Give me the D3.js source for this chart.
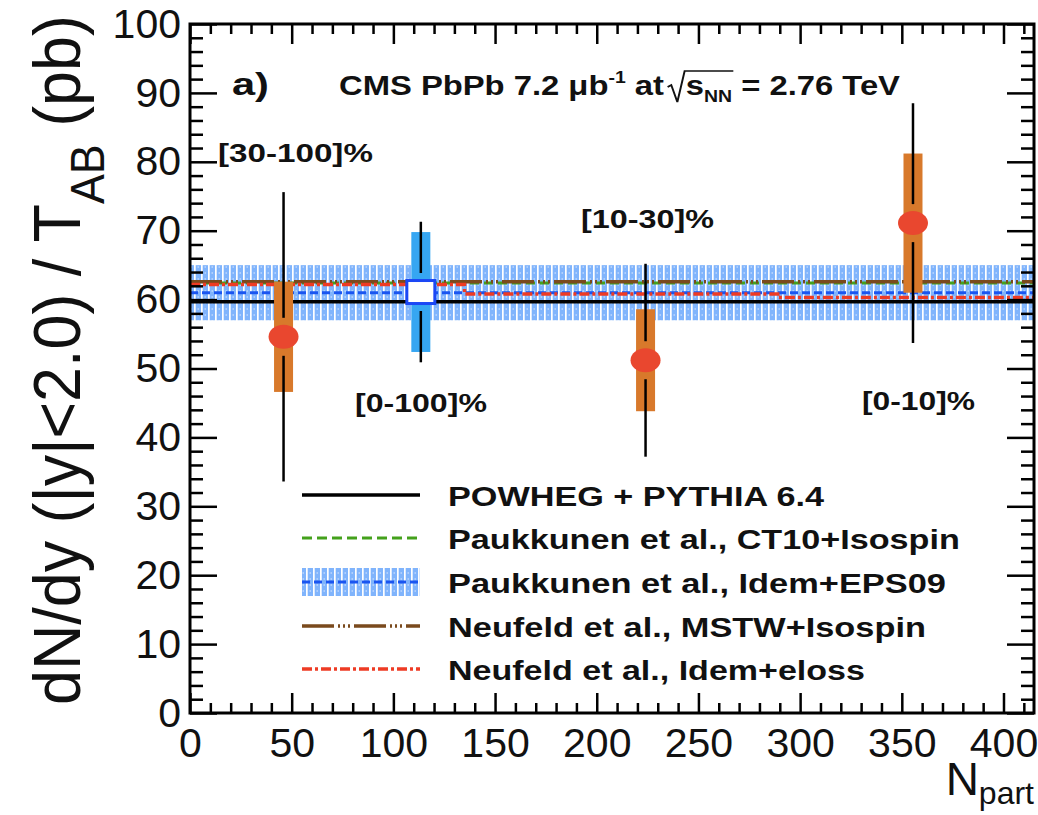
<!DOCTYPE html>
<html>
<head>
<meta charset="utf-8">
<script src="https://cdn.jsdelivr.net/npm/d3@7"></script>
<style>
  html, body { margin: 0; padding: 0; background: #fff; }
  svg { display: block; font-family: "Liberation Sans", Arial, Helvetica, sans-serif; }
</style>
</head>
<body>
<svg id="chart" width="1038" height="815"></svg>
<script>
// ---------------- data ----------------
const categories = ["[30-100]%", "[0-100]%", "[10-30]%", "[0-10]%"];
const npart      = [46, 113.5, 224, 355.5];
const yields     = [54.6, 61.1, 51.2, 71.1];
const statErr    = [21.0, 10.2, 14.0, 17.4];
const systErr    = [8.0, 8.7, 7.4, 10.1];
const isMinBias  = [false, true, false, false];

const modelNames = [
  "POWHEG + PYTHIA 6.4",
  "Paukkunen et al., CT10+Isospin",
  "Paukkunen et al., Idem+EPS09",
  "Neufeld et al., MSTW+Isospin",
  "Neufeld et al., Idem+eloss"
];
const powhegValue = 59.7;
const ct10Value   = 62.4;
const eps09Value  = 61.0;
const eps09Err    = 4.0;
const mstwValue   = 62.6;
const elossNpart  = [0, 135, 289, 415];
const elossValue  = [62.2, 60.8, 60.3, 60.3];

const xTicks = [0, 50, 100, 150, 200, 250, 300, 350, 400];
const yTicks = [0, 10, 20, 30, 40, 50, 60, 70, 80, 90, 100];

// ---------------- layout ----------------
const svg = d3.select("#chart");
const L = 190, R = 1034, T = 24, B = 713;
const x = d3.scaleLinear().domain([0, 415]).range([L, R]);
const y = d3.scaleLinear().domain([0, 100]).range([B, T]);
const ink = "#111";

// defs: clip + hatch pattern
const defs = svg.append("defs");
defs.append("clipPath").attr("id", "plotclip")
  .append("rect").attr("x", L).attr("y", T).attr("width", R - L).attr("height", B - T);
const pat = defs.append("pattern").attr("id", "hatch")
  .attr("patternUnits", "userSpaceOnUse").attr("width", 7).attr("height", 6);
pat.append("rect").attr("width", 7).attr("height", 6).attr("fill", "#80b4fc");
pat.append("rect").attr("x", 5).attr("width", 1.7).attr("height", 6).attr("fill", "#ffffff");
pat.append("rect").attr("x", 1.5).attr("y", 2.5).attr("width", 1.5).attr("height", 1).attr("fill", "#dce9ff");

// text fitting helper (stretches horizontally to target width)
function fitText(parent, str, x0, y0, width, size, weight) {
  const g = parent.append("g");
  const t = g.append("text").attr("x", 0).attr("y", 0)
    .attr("font-size", size).attr("font-weight", weight || "normal")
    .attr("fill", ink).text(str);
  const w = t.node().getComputedTextLength();
  g.attr("transform", `translate(${x0},${y0}) scale(${width / w},1)`);
  return g;
}

// ---------------- model curves ----------------
const plot = svg.append("g").attr("clip-path", "url(#plotclip)");

// EPS09 band
plot.append("rect")
  .attr("x", x(0)).attr("width", x(415) - x(0))
  .attr("y", y(eps09Value + eps09Err))
  .attr("height", y(eps09Value - eps09Err) - y(eps09Value + eps09Err))
  .attr("fill", "url(#hatch)");

const hline = (v) => d3.line()([[x(0), y(v)], [x(415), y(v)]]);

plot.append("path").attr("d", hline(eps09Value))
  .attr("stroke", "#1a55f0").attr("stroke-width", 3).attr("stroke-dasharray", "8,4").attr("fill", "none");
plot.append("path").attr("d", hline(ct10Value))
  .attr("stroke", "#44a11c").attr("stroke-width", 3).attr("stroke-dasharray", "9,5").attr("fill", "none");
plot.append("path").attr("d", hline(mstwValue))
  .attr("stroke", "#7a4a1d").attr("stroke-width", 3.5)
  .attr("stroke-dasharray", "32,4,2,3,2,3,2,4").attr("fill", "none");
const elossLine = d3.line().curve(d3.curveStepAfter)
  .x((d, i) => x(elossNpart[i])).y(d => y(d));
plot.append("path").attr("d", elossLine(elossValue))
  .attr("stroke", "#ee3b24").attr("stroke-width", 3.5)
  .attr("stroke-dasharray", "10,3,3,3").attr("fill", "none");
plot.append("path").attr("d", hline(powhegValue))
  .attr("stroke", "#000").attr("stroke-width", 3.5).attr("fill", "none");

// ---------------- data points ----------------
const pts = svg.append("g");
const boxW = 19, gap = 19;
categories.forEach((c, i) => {
  const cx = x(npart[i]), cy = y(yields[i]);
  pts.append("rect")
    .attr("x", cx - boxW / 2).attr("width", boxW)
    .attr("y", y(yields[i] + systErr[i]))
    .attr("height", y(yields[i] - systErr[i]) - y(yields[i] + systErr[i]))
    .attr("fill", isMinBias[i] ? "#36a6f2" : "#d8792b");
  pts.append("line").attr("x1", cx).attr("x2", cx)
    .attr("y1", y(yields[i] + statErr[i])).attr("y2", cy - gap)
    .attr("stroke", "#000").attr("stroke-width", 2.5);
  pts.append("line").attr("x1", cx).attr("x2", cx)
    .attr("y1", cy + gap).attr("y2", y(yields[i] - statErr[i]))
    .attr("stroke", "#000").attr("stroke-width", 2.5);
  if (isMinBias[i]) {
    pts.append("rect").attr("x", cx - 14).attr("y", cy - 11.5)
      .attr("width", 28).attr("height", 23)
      .attr("fill", "#fff").attr("stroke", "#1b47f5").attr("stroke-width", 3);
  } else {
    pts.append("ellipse").attr("cx", cx).attr("cy", cy)
      .attr("rx", 15).attr("ry", 12).attr("fill", "#e9472f");
  }
});

// category labels
const catLabelPos = [
  { x: 218, y: 162, w: 155 },
  { x: 355, y: 412, w: 132 },
  { x: 581, y: 228, w: 133 },
  { x: 862, y: 410, w: 113 }
];
categories.forEach((c, i) => {
  fitText(svg, c, catLabelPos[i].x, catLabelPos[i].y, catLabelPos[i].w, 26, "bold");
});

// ---------------- axes ----------------
function styleAxis(g) {
  g.select(".domain").remove();
  g.selectAll(".tick line").attr("stroke", "#000").attr("stroke-width", 2.5);
  g.selectAll(".tick text").attr("fill", ink).attr("font-size", 41)
    .attr("font-family", "\"Liberation Sans\", Arial, sans-serif");
}
const yMinor = d3.range(0, 101, 2).filter(v => v % 10 !== 0);
const xMinor = d3.range(0, 411, 10).filter(v => v % 50 !== 0);

svg.append("g").attr("transform", `translate(${L},0)`)
  .call(d3.axisLeft(y).tickValues(yTicks).tickSize(-27).tickPadding(9).tickFormat(d3.format("d")))
  .call(styleAxis);
svg.append("g").attr("transform", `translate(${L},0)`)
  .call(d3.axisLeft(y).tickValues(yMinor).tickSize(-13).tickFormat(""))
  .call(styleAxis);
svg.append("g").attr("transform", `translate(${R},0)`)
  .call(d3.axisRight(y).tickValues(yTicks).tickSize(-27).tickFormat(""))
  .call(styleAxis);
svg.append("g").attr("transform", `translate(${R},0)`)
  .call(d3.axisRight(y).tickValues(yMinor).tickSize(-13).tickFormat(""))
  .call(styleAxis);
svg.append("g").attr("transform", `translate(0,${B})`)
  .call(d3.axisBottom(x).tickValues(xTicks).tickSize(-20).tickPadding(15).tickFormat(d3.format("d")))
  .call(styleAxis);
svg.append("g").attr("transform", `translate(0,${B})`)
  .call(d3.axisBottom(x).tickValues(xMinor).tickSize(-10).tickFormat(""))
  .call(styleAxis);
svg.append("g").attr("transform", `translate(0,${T})`)
  .call(d3.axisTop(x).tickValues(xTicks).tickSize(-20).tickFormat(""))
  .call(styleAxis);
svg.append("g").attr("transform", `translate(0,${T})`)
  .call(d3.axisTop(x).tickValues(xMinor).tickSize(-10).tickFormat(""))
  .call(styleAxis);

// frame
svg.append("rect").attr("x", L).attr("y", T).attr("width", R - L).attr("height", B - T)
  .attr("fill", "none").attr("stroke", "#000").attr("stroke-width", 3);

// ---------------- axis titles ----------------
// y title
const yt = svg.append("g");
const ytText = yt.append("text").attr("font-size", 56).attr("fill", ink);
ytText.append("tspan").text("dN/dy (|y|<2.0) / T");
ytText.append("tspan").attr("font-size", 40).attr("dy", 20).text("AB");
ytText.append("tspan").attr("dy", -20).text("\u00a0(pb)");
const ytLen = ytText.node().getComputedTextLength();
yt.attr("transform", `translate(80,705) scale(1.2,${690 / ytLen}) rotate(-90)`);

// x title
const xt = svg.append("text").attr("x", R).attr("y", 795).attr("text-anchor", "end").attr("fill", ink);
xt.append("tspan").attr("font-size", 46).text("N");
xt.append("tspan").attr("font-size", 32).attr("dy", 9).text("part");

// ---------------- header ----------------
fitText(svg, "a)", 232, 95, 37, 31, "bold");

const hdr = svg.append("g").attr("font-weight", "bold").attr("fill", ink);
let hx = 0;
function piece(str, size, dy) {
  const t = hdr.append("text").attr("x", hx).attr("y", dy || 0).attr("font-size", size).text(str);
  hx += t.node().getComputedTextLength();
  return t;
}
piece("CMS PbPb 7.2 \u03bcb", 27);
piece("-1", 16, -12);
piece("\u00a0at", 27);
const rx = hx + 3;
hx = rx + 15;
piece("s", 27);
piece("NN", 16, 7);
const sEnd = hx + 1;
hdr.append("path")
  .attr("d", d3.line()([[rx, -8], [rx + 3, -10], [rx + 8, 7], [rx + 14, -24], [sEnd, -24]]))
  .attr("fill", "none").attr("stroke", ink).attr("stroke-width", 1.6);
piece("\u00a0=\u00a02.76 TeV", 27);
hdr.attr("transform", `translate(339,95) scale(${561 / hx},1)`);

// ---------------- legend ----------------
const legRows = [495, 538, 582, 626, 669];
const lx1 = 302, lx2 = 420;
const leg = svg.append("g");
// 0 POWHEG
leg.append("line").attr("x1", lx1).attr("x2", lx2).attr("y1", legRows[0]).attr("y2", legRows[0])
  .attr("stroke", "#000").attr("stroke-width", 3.5);
// 1 CT10
leg.append("line").attr("x1", lx1).attr("x2", lx2).attr("y1", legRows[1]).attr("y2", legRows[1])
  .attr("stroke", "#44a11c").attr("stroke-width", 3).attr("stroke-dasharray", "10,5");
// 2 EPS09
leg.append("rect").attr("x", lx1).attr("width", lx2 - lx1).attr("y", legRows[2] - 14).attr("height", 28)
  .attr("fill", "url(#hatch)");
leg.append("line").attr("x1", lx1).attr("x2", lx2).attr("y1", legRows[2]).attr("y2", legRows[2])
  .attr("stroke", "#1a55f0").attr("stroke-width", 3).attr("stroke-dasharray", "8,4");
// 3 MSTW
leg.append("line").attr("x1", lx1).attr("x2", lx2).attr("y1", legRows[3]).attr("y2", legRows[3])
  .attr("stroke", "#7a4a1d").attr("stroke-width", 3.5).attr("stroke-dasharray", "32,4,2,3,2,3,2,4");
// 4 eloss
leg.append("line").attr("x1", lx1).attr("x2", lx2).attr("y1", legRows[4]).attr("y2", legRows[4])
  .attr("stroke", "#ee3b24").attr("stroke-width", 3.5).attr("stroke-dasharray", "10,3,3,3");

const legWidths = [376, 512, 498, 478, 417];
modelNames.forEach((n, i) => {
  fitText(leg, n, 448, legRows[i] + 11, legWidths[i], 28, "bold");
});
</script>
</body>
</html>
